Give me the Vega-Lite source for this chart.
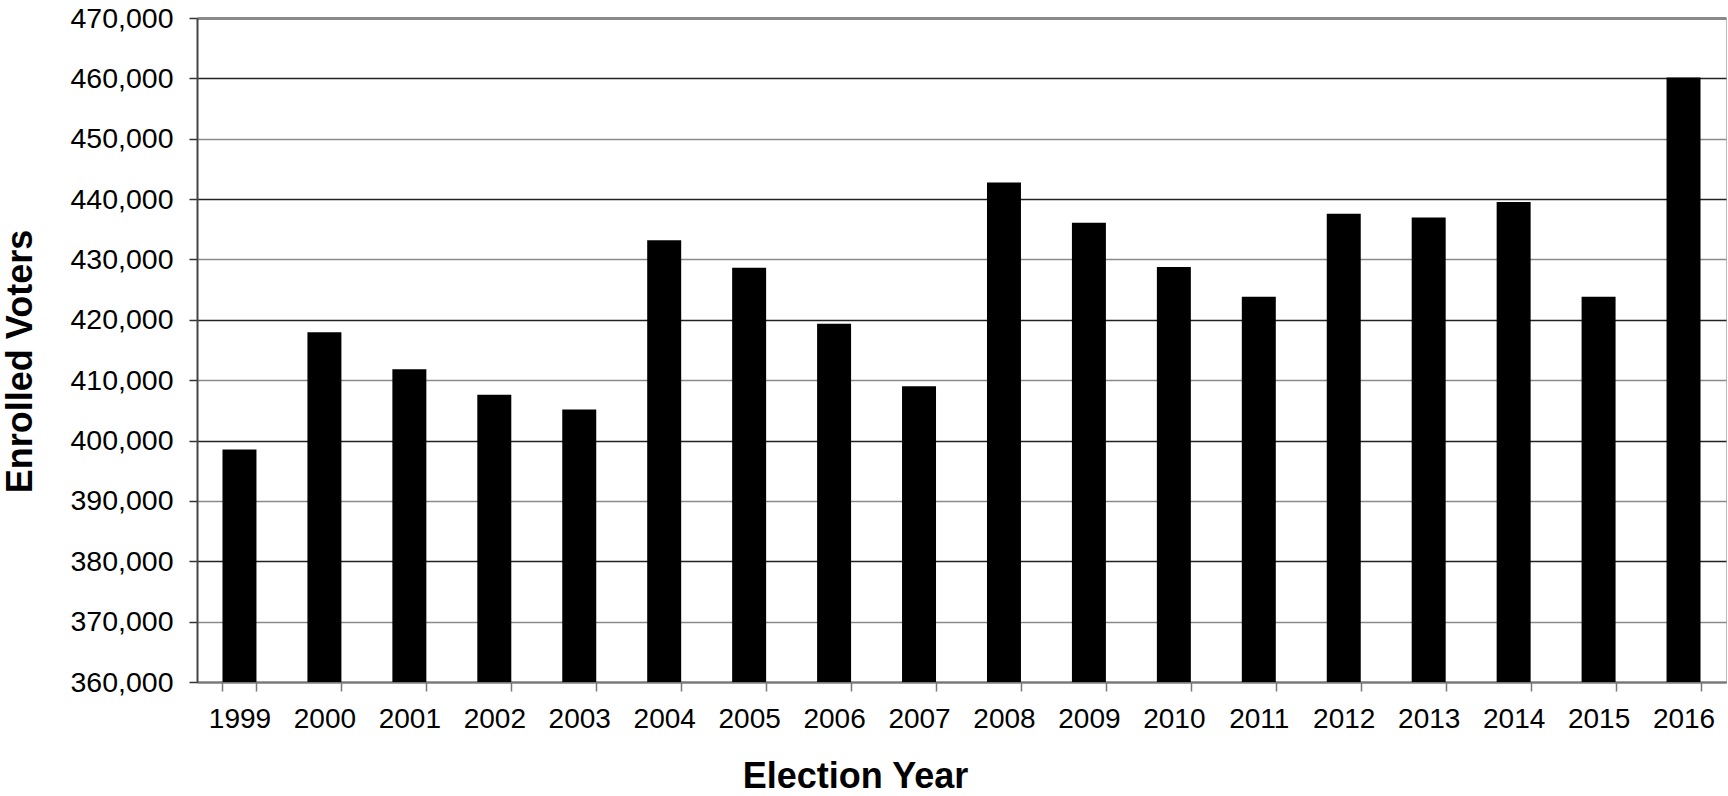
{
  "$schema": "https://vega.github.io/schema/vega-lite/v6.json",
  "autosize": {"type": "none"},
  "width": 1529,
  "height": 664,
  "padding": {"left": 197, "top": 18, "right": 2, "bottom": 114},
  "background": "white",
  "config": {
    "font": "Liberation Sans",
    "view": {"stroke": "#bbbbbb", "strokeWidth": 1}
  },
  "data": {
    "values": [
      {"year": "1999", "voters": 398500},
      {"year": "2000", "voters": 417950},
      {"year": "2001", "voters": 411800},
      {"year": "2002", "voters": 407570},
      {"year": "2003", "voters": 405140},
      {"year": "2004", "voters": 433200},
      {"year": "2005", "voters": 428620},
      {"year": "2006", "voters": 419340},
      {"year": "2007", "voters": 409000},
      {"year": "2008", "voters": 442760},
      {"year": "2009", "voters": 436080},
      {"year": "2010", "voters": 428730},
      {"year": "2011", "voters": 423810},
      {"year": "2012", "voters": 437570},
      {"year": "2013", "voters": 436960},
      {"year": "2014", "voters": 439500},
      {"year": "2015", "voters": 423810},
      {"year": "2016", "voters": 460150}
    ]
  },
  "mark": {"type": "bar", "color": "#000000", "clip": true},
  "encoding": {
    "x": {
      "field": "year",
      "type": "ordinal",
      "sort": null,
      "scale": {"paddingInner": 0.6, "paddingOuter": 0.3},
      "axis": {
        "title": "Election Year",
        "titleFont": "Liberation Sans",
        "titleFontSize": 36,
        "titleFontWeight": "bold",
        "titleColor": "#000000",
        "titleX": 658,
        "titleY": 105,
        "titleAlign": "center",
        "titleBaseline": "alphabetic",
        "labelAngle": 0,
        "labelFontSize": 28,
        "labelColor": "#000000",
        "labelPadding": 14,
        "tickBand": "extent",
        "tickSize": 9,
        "tickColor": "#777777",
        "tickWidth": 1.5,
        "domainColor": "#777777",
        "domainWidth": 2,
        "grid": false
      }
    },
    "y": {
      "field": "voters",
      "type": "quantitative",
      "scale": {"domain": [360000, 470000], "nice": false, "zero": false},
      "axis": {
        "title": "Enrolled Voters",
        "titleFont": "Liberation Sans",
        "titleFontSize": 36,
        "titleFontWeight": "bold",
        "titleColor": "#000000",
        "titleAngle": -90,
        "titleX": -166,
        "titleY": 343,
        "titleAlign": "center",
        "titleBaseline": "alphabetic",
        "values": [360000, 370000, 380000, 390000, 400000, 410000, 420000, 430000, 440000, 450000, 460000, 470000],
        "format": ",d",
        "labelFontSize": 28.5,
        "labelColor": "#000000",
        "labelPadding": 16,
        "tickSize": 8,
        "tickColor": "#333333",
        "tickWidth": 1.5,
        "domainColor": "#444444",
        "domainWidth": 2,
        "grid": true,
        "gridColor": {"condition": {"test": "datum.value % 20000 === 0", "value": "#222222"}, "value": "#8a8a8a"},
        "gridWidth": {"condition": {"test": "datum.value === 470000", "value": 3}, "value": 1.5},
        "gridOpacity": 1
      }
    }
  }
}
